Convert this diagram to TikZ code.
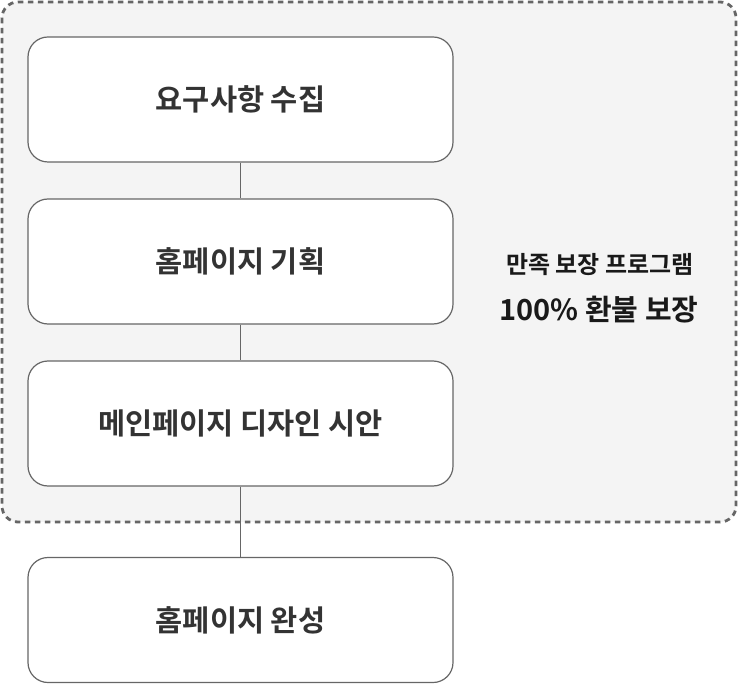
\documentclass[tikz,border=0pt]{standalone}
\usepackage{fontspec}
\setmainfont{Noto Sans CJK KR}[BoldFont={* Bold}]
\usetikzlibrary{positioning}
\definecolor{grupo}{HTML}{F4F4F4}
\definecolor{borde}{HTML}{666666}
\definecolor{texto}{HTML}{333333}
\begin{document}
\begin{tikzpicture}[x=1pt,y=-1pt,
    paso/.style={draw=borde,line width=1.2pt,fill=white,rounded corners=20pt,
      minimum width=425pt,minimum height=125pt,text=texto,
      font=\fontsize{29.5}{34}\selectfont\bfseries},
    enlace/.style={draw=borde,line width=1.1pt}]
        \useasboundingbox (0,0) rectangle (738,684);
        \draw[borde,fill=grupo,line width=2.8pt,dash pattern=on 5.5pt off 4.5pt,rounded corners=16pt]
          (2,2) rectangle (736,522); % grupo
        \node[paso] (req) at (240.5,99.5) {요구사항 수집};
        \node[paso] (plan) at (240.5,261.5) {홈페이지 기획};
        \node[paso] (dis) at (240.5,423.5) {메인페이지 디자인 시안};
        \node[paso] (fin) at (240.5,620) {홈페이지 완성};
        \draw[enlace] (req) -- (plan);
        \draw[enlace] (plan) -- (dis);
        \draw[enlace] (dis) -- (fin);
        \node[font=\fontsize{24}{28}\selectfont\bfseries,text=black!90] (prog) at (600,265) {만족 보장 프로그램};
        \node[font=\fontsize{29}{34}\selectfont\bfseries,text=black!90] (reemb) at (599,310) {100\% 환불 보장};
\end{tikzpicture}
\end{document}
